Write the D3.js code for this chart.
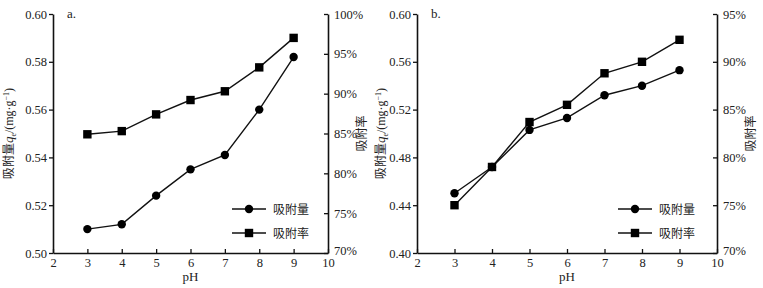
<!DOCTYPE html>
<html>
<head>
    <meta charset="utf-8">
    <title></title>
    <script src="https://d3js.org/d3.v7.min.js"></script>
    <style>
        html, body { margin: 0; padding: 0; background: #fff; }
        text { font-family: 'Liberation Serif', 'Times New Roman', serif; fill: #222; }
        .cjk { font-family: 'Noto Sans CJK SC', sans-serif; }
    </style>
</head>
<body>
<div id="chart"></div>
<script>
    // pH values (shared by both panels)
    const phValues = [3, 4, 5, 6, 7, 8, 9];

    // panel a
    const amountA = [0.510, 0.512, 0.524, 0.535, 0.541, 0.560, 0.582];
    const rateA = [84.9, 85.3, 87.4, 89.2, 90.3, 93.3, 97.0];
    const leftTicksA = [0.50, 0.52, 0.54, 0.56, 0.58, 0.60];
    const rightTicksA = [70, 75, 80, 85, 90, 95, 100];

    // panel b
    const amountB = [0.450, 0.472, 0.503, 0.513, 0.532, 0.540, 0.553];
    const rateB = [75.0, 79.0, 83.7, 85.5, 88.8, 90.0, 92.3];
    const leftTicksB = [0.40, 0.44, 0.48, 0.52, 0.56, 0.60];
    const rightTicksB = [70, 75, 80, 85, 90, 95];

    const xTicks = [2, 3, 4, 5, 6, 7, 8, 9, 10];
    const seriesNames = ["吸附量", "吸附率"];

    const svg = d3.select("#chart").append("svg")
        .attr("width", 763)
        .attr("height", 288);

    function drawPanel(p) {
        const g = svg.append("g");

        const x = d3.scaleLinear().domain([2, 10]).range([p.left, p.right]);
        const yL = d3.scaleLinear().domain([p.leftTicks[0], p.leftTicks[p.leftTicks.length - 1]]).range([253, 14]);
        const yR = d3.scaleLinear().domain([p.rightTicks[0], p.rightTicks[p.rightTicks.length - 1]]).range([253, 14]);

        // bottom axis, ticks pointing inward
        const xAxis = g.append("g")
            .attr("transform", "translate(0,253)")
            .call(d3.axisBottom(x).tickValues(xTicks).tickSize(-4).tickSizeOuter(0).tickPadding(3));

        // left axis, ticks outward
        const lAxis = g.append("g")
            .attr("transform", `translate(${p.left},0)`)
            .call(d3.axisLeft(yL).tickValues(p.leftTicks).tickFormat(d3.format(".2f")).tickSize(4).tickSizeOuter(0).tickPadding(2));

        // right axis, ticks inward
        const rAxis = g.append("g")
            .attr("transform", `translate(${p.right},0)`)
            .call(d3.axisRight(yR).tickValues(p.rightTicks).tickFormat(d => d + "%").tickSize(-4).tickSizeOuter(0).tickPadding(4));

        [xAxis, lAxis, rAxis].forEach(a => {
            a.select(".domain").attr("stroke", "#111").attr("stroke-width", 1.6);
            a.selectAll(".tick line").attr("stroke", "#111").attr("stroke-width", 1.3);
            a.selectAll("text").style("font-size", "12.5px").attr("fill", "#222")
                .style("font-family", "'Liberation Serif', serif");
        });
        // right tick labels sit outside the axis line
        rAxis.selectAll(".tick text").attr("x", 6);
        rAxis.selectAll(".tick text").filter(d => d === p.rightTicks[0]).attr("dy", "0.1em");
        xAxis.selectAll(".tick text").attr("dy", "0.9em");

        // panel tag
        g.append("text").attr("x", p.left + 14).attr("y", 18)
            .style("font-size", "13px").text(p.tag);

        // x title
        g.append("text").attr("x", (p.left + p.right) / 2).attr("y", 281)
            .attr("text-anchor", "middle").style("font-size", "13px").text("pH");

        // left title
        const lt = g.append("text")
            .attr("transform", `translate(${p.left - p.leftTitle},133.5) rotate(-90)`)
            .attr("text-anchor", "middle")
            .style("font-size", "12px");
        lt.append("tspan").attr("class", "cjk").text("吸附量");
        lt.append("tspan").style("font-style", "italic").style("font-size", "13px").text("q");
        lt.append("tspan").attr("dy", 3).style("font-size", "8px").text("e");
        lt.append("tspan").attr("dy", -3).text("/(mg·g");
        lt.append("tspan").attr("dy", -4).style("font-size", "8px").text("−1");
        lt.append("tspan").attr("dy", 4).text(")");

        // right title
        g.append("text")
            .attr("class", "cjk")
            .attr("transform", `translate(${p.right + 38},133.5) rotate(-90)`)
            .attr("text-anchor", "middle")
            .style("font-size", "12px")
            .text("吸附率");

        const line1 = d3.line().x((d, i) => x(phValues[i])).y(d => yL(d));
        const line2 = d3.line().x((d, i) => x(phValues[i])).y(d => yR(d));

        g.append("path").datum(p.amount).attr("d", line1)
            .attr("fill", "none").attr("stroke", "#111").attr("stroke-width", 1.4);
        g.append("path").datum(p.rate).attr("d", line2)
            .attr("fill", "none").attr("stroke", "#111").attr("stroke-width", 1.4);

        g.selectAll("circle.amt").data(p.amount).enter().append("circle")
            .attr("class", "amt")
            .attr("cx", (d, i) => x(phValues[i]))
            .attr("cy", d => yL(d))
            .attr("r", 4.2)
            .attr("fill", "#000");

        g.selectAll("rect.rate").data(p.rate).enter().append("rect")
            .attr("class", "rate")
            .attr("x", (d, i) => x(phValues[i]) - 4.2)
            .attr("y", d => yR(d) - 4.2)
            .attr("width", 8.4)
            .attr("height", 8.4)
            .attr("fill", "#000");

        // legend
        seriesNames.forEach((name, i) => {
            const ly = 209 + i * 24;
            const lg = g.append("g").attr("transform", `translate(${p.legendX},${ly})`);
            lg.append("line").attr("x1", 0).attr("x2", 34).attr("y1", 0).attr("y2", 0)
                .attr("stroke", "#111").attr("stroke-width", 1.4);
            if (i === 0) {
                lg.append("circle").attr("cx", 17).attr("cy", 0).attr("r", 4.2).attr("fill", "#000");
            } else {
                lg.append("rect").attr("x", 12.8).attr("y", -4.2).attr("width", 8.4).attr("height", 8.4).attr("fill", "#000");
            }
            lg.append("text").attr("class", "cjk").attr("x", 41).attr("y", 4.5)
                .style("font-size", "12px").text(name);
        });
    }

    drawPanel({
        tag: "a.", left: 53, right: 328, legendX: 232, leftTitle: 40,
        amount: amountA, rate: rateA, leftTicks: leftTicksA, rightTicks: rightTicksA
    });
    drawPanel({
        tag: "b.", left: 417, right: 717, legendX: 618, leftTitle: 32,
        amount: amountB, rate: rateB, leftTicks: leftTicksB, rightTicks: rightTicksB
    });
</script>
</body>
</html>
